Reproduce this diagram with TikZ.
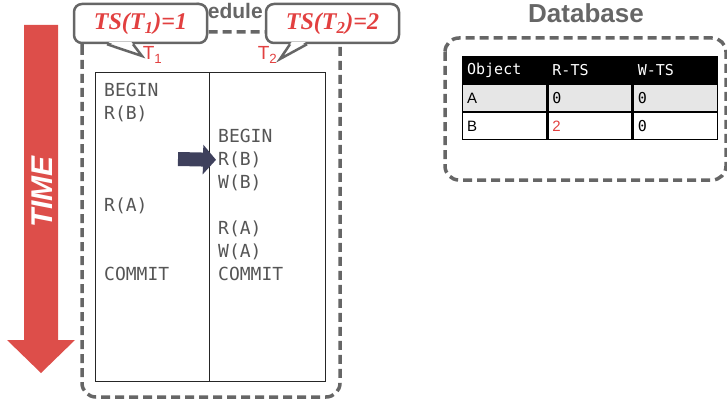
\documentclass[tikz,border=0pt]{standalone}
\usepackage{fontspec}
\setmainfont{Liberation Sans}
\setmonofont{DejaVu Sans Mono}
\newfontfamily\tsfont{Liberation Serif}
\usetikzlibrary{positioning,calc,arrows.meta}

\definecolor{timered}{RGB}{221,78,74}
\definecolor{labelred}{RGB}{226,64,64}
\definecolor{boxgray}{RGB}{102,102,102}
\definecolor{opgray}{RGB}{85,85,85}
\definecolor{navy}{RGB}{62,64,92}
\definecolor{rowgray}{RGB}{230,230,230}

\tikzset{
  dashbox/.style={draw=boxgray, line width=3.5pt, dash pattern=on 9pt off 5pt, rounded corners=14pt},
  title/.style={anchor=base, text=boxgray, font=\fontsize{#1}{#1}\selectfont\bfseries},
  op/.style={anchor=base west, inner sep=0pt, text=opgray, font=\fontsize{18}{18}\selectfont\ttfamily},
  tlab/.style={anchor=base, inner sep=0pt, text=labelred, font=\fontsize{19}{19}\selectfont},
  bubble/.style={draw=boxgray, line width=2.5pt, fill=white, rounded corners=8pt,
    minimum width=133pt, minimum height=39pt, text=labelred,
    font=\fontsize{24}{24}\selectfont\tsfont\bfseries\itshape},
  tail/.style={draw=boxgray, line width=2.5pt},
  cell/.style={draw=black, line width=1.3pt, anchor=north west, minimum height=26.7pt,
    text width=75pt, inner xsep=4.5pt, align=left, font=\fontsize{15}{15}\selectfont},
  hcell/.style={cell, fill=black, text=white, font=\fontsize{15}{15}\selectfont\ttfamily},
}

\begin{document}
\begin{tikzpicture}[x=1pt,y=-1pt]
\useasboundingbox (0,0) rectangle (727,401);

% time arrow
\fill [timered] (24,25) -- (58,25) -- (58,340) -- (75,340) -- (41,373) -- (7,340) -- (24,340) -- cycle;
\node [rotate=90, text=white, font=\fontsize{30}{30}\selectfont\bfseries\itshape] (time) at (42,192) {TIME};

% schedule
\node [title=21] (schedtitle) at (216,19) {Schedule};
\draw [dashbox] (82,32) rectangle (340,397);
\draw [line width=1pt, draw=black!85] (95,73) rectangle (325,381);
\draw [line width=1pt, draw=black!85] (209,73) -- (209,381);

\node [op] (a1) at (104,96.5) {BEGIN};
\node [op] (a2) at (104,119.5) {R(B)};
\node [op] (a3) at (104,211.5) {R(A)};
\node [op] (a4) at (104,280.5) {COMMIT};

\node [op] (b1) at (218,142.5) {BEGIN};
\node [op] (b2) at (218,165.5) {R(B)};
\node [op] (b3) at (218,188.5) {W(B)};
\node [op] (b4) at (218,234.5) {R(A)};
\node [op] (b5) at (218,257.5) {W(A)};
\node [op] (b6) at (218,280.5) {COMMIT};

\coordinate (arrstart) at (178,159);
\draw [navy, line width=14pt, shorten >=2pt, -{Triangle[length=13pt,width=29pt]}] (arrstart) -- (b2.west);

\node [tlab] (t1) at (152.5,60) {T\textsubscript{1}};
\node [tlab] (t2) at (267.5,60) {T\textsubscript{2}};

% timestamp bubbles
\node [bubble] (ts1) at (140.5,23.5) {TS(T\textsubscript{1})=1};
\coordinate (tip1) at (142,56);
\fill [white] ($(ts1.south)+(-32,-2)$) -- (tip1) -- ($(ts1.south)+(-9,-2)$) -- cycle;
\draw [tail] ($(ts1.south)+(-33.5,0)$) -- (tip1) -- ($(ts1.south)+(-7.5,0)$);

\node [bubble] (ts2) at (332.5,23.5) {TS(T\textsubscript{2})=2};
\coordinate (tip2) at (280,59);
\fill [white] ($(ts2.south)+(-41,-2)$) -- (tip2) -- ($(ts2.south)+(-27,-2)$) -- cycle;
\draw [tail] ($(ts2.south)+(-42.5,0)$) -- (tip2) -- ($(ts2.south)+(-25.5,0)$);

% database
\node [title=26] (dbtitle) at (586,23) {Database};
\draw [dashbox] (445,38) rectangle (726,180);

\node [hcell] (hobj) at (462,56) {Object};
\node [hcell, right=0pt of hobj] (hrts) {R-TS};
\node [hcell, right=0pt of hrts] (hwts) {W-TS};
\node [cell, fill=rowgray, below=0pt of hobj] (aobj) {A};
\node [cell, fill=rowgray, right=0pt of aobj, font=\fontsize{15}{15}\selectfont\ttfamily] (arts) {0};
\node [cell, fill=rowgray, right=0pt of arts, font=\fontsize{15}{15}\selectfont\ttfamily] (awts) {0};
\node [cell, below=0pt of aobj] (bobj) {B};
\node [cell, right=0pt of bobj, text=labelred] (brts) {2};
\node [cell, right=0pt of brts, font=\fontsize{15}{15}\selectfont\ttfamily] (bwts) {0};
\end{tikzpicture}
\end{document}
